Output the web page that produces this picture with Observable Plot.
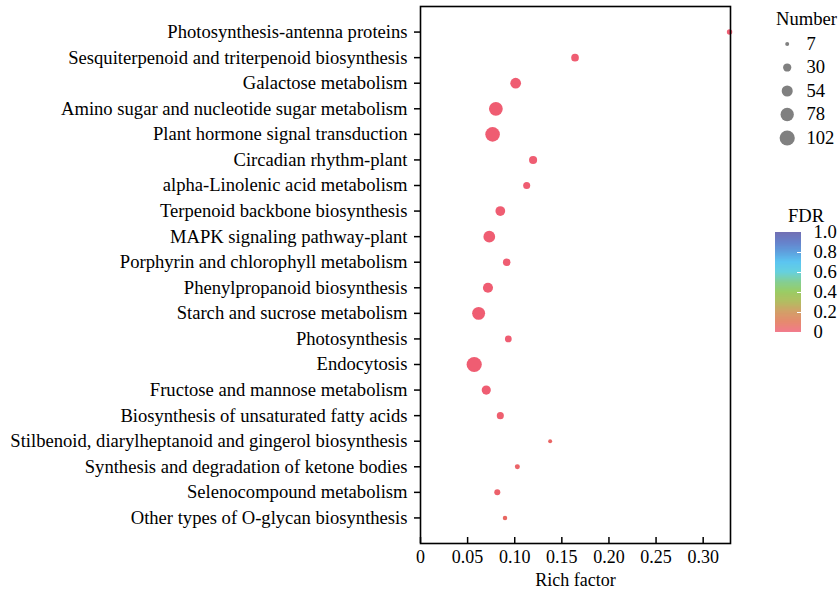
<!DOCTYPE html>
<html>
<head>
<meta charset="utf-8">
<script src="https://cdn.jsdelivr.net/npm/d3@7"></script>
<script src="https://cdn.jsdelivr.net/npm/@observablehq/plot@0.6"></script>
<style>
  html, body { margin: 0; padding: 0; background: #fff; }
  #wrap { position: relative; width: 839px; height: 590px; font-family: "Liberation Serif", "Times New Roman", serif; background: #fff; }
  #wrap > div { position: absolute; }
  .ttl { font-size: 18.6px; line-height: 18px; color: #000; white-space: nowrap; }
</style>
</head>
<body>
<div id="wrap">
  <div id="main" style="left:0;top:0"></div>
  <div id="sizeLegend" style="left:775px;top:0"></div>
  <div id="colorLegend" style="left:775px;top:222px"></div>
  <div class="ttl" style="left:776px;top:10px">Number</div>
  <div class="ttl" style="left:788px;top:207px">FDR</div>
</div>
<script>
const categories = [
  "Photosynthesis-antenna proteins",
  "Sesquiterpenoid and triterpenoid biosynthesis",
  "Galactose metabolism",
  "Amino sugar and nucleotide sugar metabolism",
  "Plant hormone signal transduction",
  "Circadian rhythm-plant",
  "alpha-Linolenic acid metabolism",
  "Terpenoid backbone biosynthesis",
  "MAPK signaling pathway-plant",
  "Porphyrin and chlorophyll metabolism",
  "Phenylpropanoid biosynthesis",
  "Starch and sucrose metabolism",
  "Photosynthesis",
  "Endocytosis",
  "Fructose and mannose metabolism",
  "Biosynthesis of unsaturated fatty acids",
  "Stilbenoid, diarylheptanoid and gingerol biosynthesis",
  "Synthesis and degradation of ketone bodies",
  "Selenocompound metabolism",
  "Other types of O-glycan biosynthesis"
];
const richFactor = [0.328, 0.164, 0.101, 0.080, 0.0765, 0.1195, 0.1127, 0.0847, 0.073, 0.0915,
                    0.0716, 0.0617, 0.0932, 0.057, 0.0698, 0.0847, 0.1376, 0.1028, 0.0815, 0.0897];
const geneNumber = [13, 26, 51, 84, 94, 29, 22, 42, 61, 25,
                    45, 74, 20, 102, 37, 22, 7, 11, 16, 9];
const fdr = [0.0, 0.0, 0.0, 0.0, 0.0, 0.0, 0.0, 0.0, 0.0, 0.0,
             0.0, 0.0, 0.0, 0.0, 0.0, 0.01, 0.04, 0.03, 0.02, 0.05];

const xTicks = [0, 0.05, 0.10, 0.15, 0.20, 0.25, 0.30];
const sizeBreaks = [7, 30, 54, 78, 102];
const fdrStops = [0, 0.1, 0.2, 0.3, 0.4, 0.5, 0.6, 0.7, 0.8, 0.9, 1.0];
const fdrColors = ["#EF5D72", "#E0714F", "#C98A48", "#A2AE40", "#84C143", "#6AC47C",
                   "#45C6D8", "#38B8EE", "#3C8AD6", "#4666BE", "#5450A2"];
const fdrTicks = [0, 0.2, 0.4, 0.6, 0.8, 1.0];

const rows = categories.map((c, i) => ({term: c, rich: richFactor[i], n: geneNumber[i], fdr: fdr[i]}));

const font = {fontFamily: "'Liberation Serif', 'Times New Roman', serif", fontSize: "18px", color: "#000", background: "transparent", overflow: "visible"};
const rScale = {type: "sqrt", domain: [0, 102], range: [0, 7.6]};
const colorScale = {type: "linear", domain: fdrStops, range: fdrColors, interpolate: "rgb"};

const main = Plot.plot({
  width: 839, height: 590,
  marginLeft: 420, marginRight: 109, marginTop: 6, marginBottom: 47,
  style: font,
  x: {domain: [0, 0.329]},
  y: {type: "point", domain: categories, padding: 1, round: false},
  r: rScale,
  color: colorScale,
  marks: [
    Plot.axisY({tickSize: 6, tickPadding: 7, label: null, strokeWidth: 1.5, fontSize: 18.6}),
    Plot.axisX({ticks: xTicks, tickSize: 0, tickPadding: 7,
      tickFormat: d => d === 0 ? "0" : d.toFixed(2),
      label: "Rich factor", labelAnchor: "center", labelArrow: "none", labelOffset: 42}),
    Plot.ruleX(xTicks, {insetTop: 531, stroke: "#000", strokeWidth: 1.5}),
    Plot.dot(rows, {x: "rich", y: "term", r: "n", fill: "fdr", fillOpacity: 1}),
    Plot.frame({stroke: "#000", strokeWidth: 1.6})
  ]
});
document.getElementById("main").append(main);

const sizeLeg = Plot.plot({
  width: 64, height: 150, margin: 0,
  style: font,
  x: {domain: [0, 1], range: [11.7, 31], axis: null},
  y: {type: "point", domain: sizeBreaks, range: [43.5, 137.5], padding: 0, round: false, axis: null},
  r: rScale,
  marks: [
    Plot.dot(sizeBreaks, {x: () => 0, y: d => d, r: d => d, fill: "#808080"}),
    Plot.text(sizeBreaks, {x: () => 1, y: d => d, text: d => String(d), textAnchor: "start", fill: "#000", fontSize: 18.6})
  ]
});
document.getElementById("sizeLegend").append(sizeLeg);

const ramp = d3.range(0, 1, 0.005).map(v => ({v0: v, v1: Math.min(1, v + 0.006)}));
const colorLeg = Plot.plot({
  width: 64, height: 123,
  marginLeft: 0, marginRight: 38, marginTop: 10, marginBottom: 13,
  style: font,
  y: {domain: [0, 1]},
  color: colorScale,
  marks: [
    Plot.rectY(ramp, {y1: "v0", y2: "v1", fill: "v0"}),
    Plot.tickY(fdrTicks.slice(1, -1), {y: d => d, stroke: "#fff", insetLeft: 22}),
    Plot.axisY({anchor: "right", ticks: fdrTicks, tickSize: 0, tickPadding: 12, label: null, fontSize: 18.6,
      tickFormat: d => d === 0 ? "0" : d.toFixed(1)})
  ]
});
document.getElementById("colorLegend").append(colorLeg);
</script>
</body>
</html>
